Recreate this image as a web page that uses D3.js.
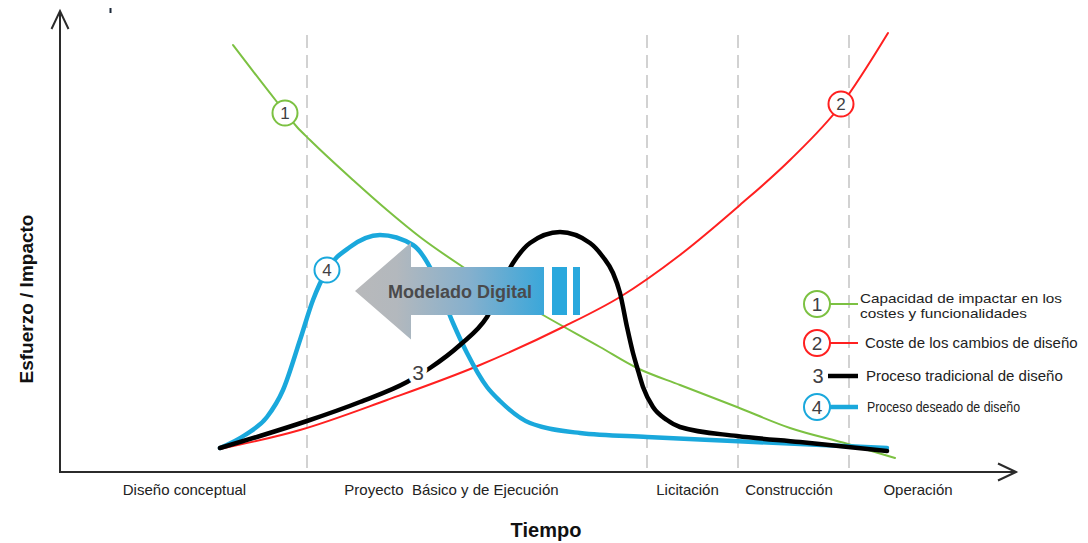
<!DOCTYPE html>
<html>
<head>
<meta charset="utf-8">
<script src="https://cdn.jsdelivr.net/npm/d3@7"></script>
<style>
  html, body { margin: 0; padding: 0; background: #fff; }
  svg { display: block; font-family: "Liberation Sans", Arial, sans-serif; }
</style>
</head>
<body>
<script>
// Phases of the project timeline
const phaseLabels = ["Diseño conceptual", "Proyecto  Básico y de Ejecución", "Licitación", "Construcción", "Operación"];
const phaseCenters = [124.5, 391.5, 627.5, 729, 858];
const phaseBounds = [247, 587, 678, 789];

// Curves: [time, effort/impact]
const capacidadImpacto = [[173,427],[217,370],[237,345],[250,332],[293,292],[327,262],[360,235],[403,205],[483,157],[540,125],[577,104],[620,87],[677,65],[730,44],[788,28],[835,14]];
const costeCambios = [[160,23],[240,42],[327,72],[420,107],[503,145],[560,175],[620,217],[680,267],[730,312],[781,367],[828,439]];
const procesoTradicional = [[160,24],[200,36],[247,51],[300,70],[347,90],[370,104],[400,127],[427,155],[453,209],[470,229],[500,240],[530,229],[543,215],[553,199],[560,179],[567,145],[573,119],[577,105],[583,85],[593,65],[607,52],[620,45],[677,36],[740,30],[827,21]];
const procesoDeseado = [[160,24],[185,37],[207,55],[223,82],[240,132],[253,172],[267,202],[290,225],[320,237],[353,227],[373,199],[393,149],[407,119],[427,85],[440,71],[470,49],[520,39],[587,35],[673,31],[827,24]];

// Numbered markers placed on the curves
const markerIds = ["1", "2", "3", "4"];
const markerPoints = [[225,359],[781,368],[358,100],[267,202]];

// Legend
const legendIds = ["1", "2", "3", "4"];
const legendLabels = [["Capacidad de impactar en los", "costes y funcionalidades"], ["Coste de los cambios de diseño"], ["Proceso tradicional de diseño"], ["Proceso deseado de diseño"]];
const seriesColors = ["#7cc142", "#ff2020", "#000000", "#1aa8dc"];
const seriesWidths = [2, 2, 4.5, 4.5];

// "Modelado Digital" arrow: time extents and effort levels
const arrowTime = { tip: 295, headBase: 351, shaftEnd: 484, bar1: [492, 507], bar2: [513, 520] };
const arrowLevel = { center: 181, shaftHalf: 24, headHalf: 48.5 };

const W = 1088, H = 543;
const svg = d3.select("body").append("svg").attr("width", W).attr("height", H);

const x = d3.scaleLinear().domain([0, 955]).range([60, 1015]);
const y = d3.scaleLinear().domain([0, 460]).range([472, 12]);

const defs = svg.append("defs");
const grad = defs.append("linearGradient").attr("id", "arrowGrad")
  .attr("gradientUnits", "userSpaceOnUse")
  .attr("x1", x(arrowTime.tip)).attr("x2", x(arrowTime.shaftEnd)).attr("y1", 0).attr("y2", 0);
grad.append("stop").attr("offset", "0%").attr("stop-color", "#b8b9bb");
grad.append("stop").attr("offset", "22%").attr("stop-color", "#b3b8bd");
grad.append("stop").attr("offset", "60%").attr("stop-color", "#86b0cd");
grad.append("stop").attr("offset", "100%").attr("stop-color", "#3aa7da");

// Phase separators
svg.append("g").selectAll("line").data(phaseBounds).join("line")
  .attr("x1", d => x(d)).attr("x2", d => x(d))
  .attr("y1", 35).attr("y2", 470)
  .attr("stroke", "#b5b5b5").attr("stroke-width", 1.2)
  .attr("stroke-dasharray", "13,7");

// Axes with open arrowheads
const axisG = svg.append("g").attr("stroke", "#2b2b2b").attr("stroke-width", 2).attr("fill", "none");
axisG.append("line").attr("x1", x(0)).attr("x2", x(0)).attr("y1", y(0) + 1).attr("y2", y(460) - 1);
axisG.append("polyline").attr("points", `${x(0)-8.5},${y(460)+17} ${x(0)},${y(460)-1} ${x(0)+8.5},${y(460)+17}`);
axisG.append("line").attr("x1", x(0) - 1).attr("x2", x(955)).attr("y1", y(0)).attr("y2", y(0));
axisG.append("polyline").attr("points", `${x(955)-17},${y(0)-8.5} ${x(955)+1},${y(0)} ${x(955)-17},${y(0)+8.5}`);

svg.append("rect").attr("x", 109.5).attr("y", 8).attr("width", 2).attr("height", 5).attr("fill", "#1d2a3a");

// Phase labels and axis titles
svg.append("g").selectAll("text").data(phaseLabels).join("text")
  .attr("x", (d, i) => x(phaseCenters[i])).attr("y", 495)
  .attr("text-anchor", "middle").style("white-space", "pre")
  .attr("font-size", 15).attr("fill", "#222")
  .text(d => d);

svg.append("text").attr("x", 546).attr("y", 537).attr("text-anchor", "middle")
  .attr("font-size", 20).attr("font-weight", "bold").attr("fill", "#111").text("Tiempo");
svg.append("text").attr("transform", "translate(33,299) rotate(-90)").attr("text-anchor", "middle")
  .attr("font-size", 19).attr("font-weight", "bold").attr("fill", "#111").text("Esfuerzo / Impacto");

// Curves
const line = d3.line().x(d => x(d[0])).y(d => y(d[1])).curve(d3.curveMonotoneX);
const seriesData = [capacidadImpacto, costeCambios, procesoDeseado, procesoTradicional];
const seriesIdx = [0, 1, 3, 2];
svg.append("g").selectAll("path").data(seriesData).join("path")
  .attr("d", d => line(d))
  .attr("fill", "none")
  .attr("stroke", (d, i) => seriesColors[seriesIdx[i]])
  .attr("stroke-width", (d, i) => seriesWidths[seriesIdx[i]])
  .attr("stroke-linecap", "round").attr("stroke-linejoin", "round");

// "Modelado Digital" arrow
const ac = arrowLevel.center, sh = arrowLevel.shaftHalf, hh = arrowLevel.headHalf;
const arrowPts = [
  [arrowTime.tip, ac], [arrowTime.headBase, ac + hh], [arrowTime.headBase, ac + sh],
  [arrowTime.shaftEnd, ac + sh], [arrowTime.shaftEnd, ac - sh], [arrowTime.headBase, ac - sh],
  [arrowTime.headBase, ac - hh]
];
svg.append("path")
  .attr("d", d3.line().x(d => x(d[0])).y(d => y(d[1]))(arrowPts) + "Z")
  .attr("fill", "url(#arrowGrad)");
svg.append("g").selectAll("rect").data([arrowTime.bar1, arrowTime.bar2]).join("rect")
  .attr("x", d => x(d[0])).attr("width", d => x(d[1]) - x(d[0]))
  .attr("y", y(ac + sh)).attr("height", y(ac - sh) - y(ac + sh))
  .attr("fill", "#29a8dd");
svg.append("text").attr("x", x(400)).attr("y", y(ac) + 6.5).attr("text-anchor", "middle")
  .attr("font-size", 18).attr("font-weight", "bold").attr("fill", "#4a4a4c").text("Modelado Digital");

// Numbered markers on curves
const mk = svg.append("g");
markerIds.forEach((id, i) => {
  const [mx, my] = [x(markerPoints[i][0]), y(markerPoints[i][1])];
  if (id === "3") {
    mk.append("text").attr("x", mx).attr("y", my + 7.5).attr("text-anchor", "middle")
      .attr("font-size", 21).attr("fill", "#3f3f44")
      .attr("stroke", "#fff").attr("stroke-width", 9).attr("paint-order", "stroke")
      .text(id);
  } else {
    mk.append("circle").attr("cx", mx).attr("cy", my).attr("r", 12.5)
      .attr("fill", "#fff").attr("stroke", seriesColors[i]).attr("stroke-width", 2);
    mk.append("text").attr("x", mx).attr("y", my + 6).attr("text-anchor", "middle")
      .attr("font-size", 17).attr("fill", "#3f3f44").text(id);
  }
});

// Legend
const legendY = [304, 343, 376, 407];
const lg = svg.append("g");
legendIds.forEach((id, i) => {
  const cy = legendY[i];
  lg.append("line").attr("x1", 828).attr("x2", 858).attr("y1", cy).attr("y2", cy)
    .attr("stroke", seriesColors[i]).attr("stroke-width", i >= 2 ? 4.5 : 2);
  if (id === "3") {
    lg.append("text").attr("x", 818).attr("y", cy + 6.5).attr("text-anchor", "middle")
      .attr("font-size", 20).attr("fill", "#3f3f44").text(id);
  } else {
    lg.append("circle").attr("cx", 817).attr("cy", cy).attr("r", 13)
      .attr("fill", "#fff").attr("stroke", seriesColors[i]).attr("stroke-width", 2);
    lg.append("text").attr("x", 817).attr("y", cy + 6.5).attr("text-anchor", "middle")
      .attr("font-size", 19).attr("fill", "#3f3f44").text(id);
  }
});
const lgText = lg.append("g").attr("fill", "#222");
lgText.append("text").attr("x", 860).attr("y", 302.5).attr("font-size", 13)
  .attr("textLength", 202).attr("lengthAdjust", "spacingAndGlyphs").text(legendLabels[0][0]);
lgText.append("text").attr("x", 860).attr("y", 318).attr("font-size", 13)
  .attr("textLength", 167).attr("lengthAdjust", "spacingAndGlyphs").text(legendLabels[0][1]);
lgText.append("text").attr("x", 865).attr("y", 348).attr("font-size", 15).text(legendLabels[1][0]);
lgText.append("text").attr("x", 866).attr("y", 380.5).attr("font-size", 15).text(legendLabels[2][0]);
lgText.append("text").attr("x", 867).attr("y", 412).attr("font-size", 14)
  .attr("textLength", 153).attr("lengthAdjust", "spacingAndGlyphs").text(legendLabels[3][0]);
</script>
</body>
</html>
